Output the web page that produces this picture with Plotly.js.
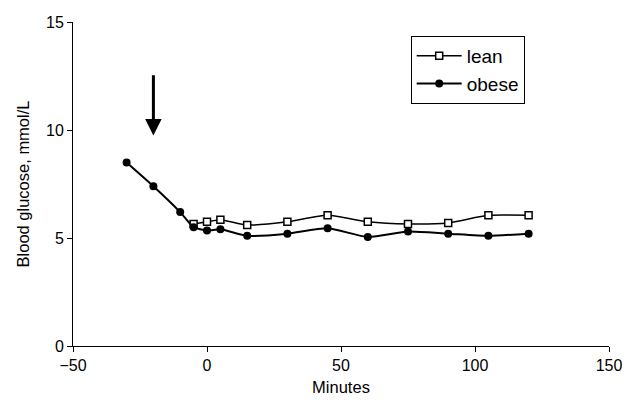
<!DOCTYPE html>
<html>
<head>
<meta charset="utf-8">
<script src="https://cdn.plot.ly/plotly-3.0.1.min.js"></script>
<style>html,body{margin:0;padding:0;background:#fff;}#chart{width:627px;height:400px;}</style>
</head>
<body>
<div id="chart"></div>
<script>
const obeseMinutes = [-30, -20, -10, -5, 0, 5, 15, 30, 45, 60, 75, 90, 105, 120];
const obeseGlucose = [8.5, 7.4, 6.2, 5.5, 5.35, 5.4, 5.1, 5.2, 5.45, 5.05, 5.3, 5.2, 5.1, 5.2];
const leanMinutes = [-5, 0, 5, 15, 30, 45, 60, 75, 90, 105, 120];
const leanGlucose = [5.65, 5.75, 5.85, 5.6, 5.75, 6.05, 5.75, 5.65, 5.7, 6.05, 6.05];
const seriesNames = ["lean", "obese"];
const arrowMinute = -20;

const family = "Liberation Sans, Arial, sans-serif";
const tickFont = {family: family, size: 16, color: "#000"};
const titleFont = {family: family, size: 16.5, color: "#000"};

const traces = [
  {
    x: leanMinutes, y: leanGlucose, name: seriesNames[0], type: "scatter", mode: "lines+markers",
    line: {color: "#000", width: 1.5, shape: "spline", smoothing: 0.6},
    marker: {symbol: "square", size: 7, color: "#fff", line: {color: "#000", width: 1.5}}
  },
  {
    x: obeseMinutes, y: obeseGlucose, name: seriesNames[1], type: "scatter", mode: "lines+markers",
    line: {color: "#000", width: 2, shape: "spline", smoothing: 0.6},
    marker: {symbol: "circle", size: 8, color: "#000"}
  }
];

const layout = {
  width: 627, height: 400,
  margin: {l: 73, r: 18, t: 22, b: 54},
  paper_bgcolor: "#fff", plot_bgcolor: "#fff",
  font: tickFont,
  showlegend: true,
  legend: {
    x: 0.63, y: 0.957, xanchor: "left", yanchor: "top",
    bordercolor: "#000", borderwidth: 1, bgcolor: "#fff",
    font: {family: family, size: 19, color: "#000"},
    itemwidth: 45
  },
  xaxis: {
    range: [-50, 150], tickvals: [-50, 0, 50, 100, 150],
    showgrid: false, zeroline: false, showline: true, linecolor: "#000", linewidth: 1,
    ticks: "outside", ticklen: 5, tickcolor: "#000",
    tickfont: tickFont,
    title: {text: "Minutes", font: titleFont, standoff: 8}
  },
  yaxis: {
    range: [0, 15], tickvals: [0, 5, 10, 15],
    showgrid: false, zeroline: false, showline: true, linecolor: "#000", linewidth: 1,
    ticks: "outside", ticklen: 5, tickcolor: "#000",
    tickfont: tickFont,
    title: {text: "Blood glucose, mmol/L", font: titleFont, standoff: 12}
  },
  annotations: [{
    x: arrowMinute, y: 9.75, xref: "x", yref: "y",
    ax: arrowMinute, ay: 12.6, axref: "x", ayref: "y",
    showarrow: true, arrowhead: 2, arrowsize: 1.1, arrowwidth: 3, arrowcolor: "#000", text: ""
  }]
};

Plotly.newPlot("chart", traces, layout, {displayModeBar: false, staticPlot: true});
</script>
</body>
</html>
